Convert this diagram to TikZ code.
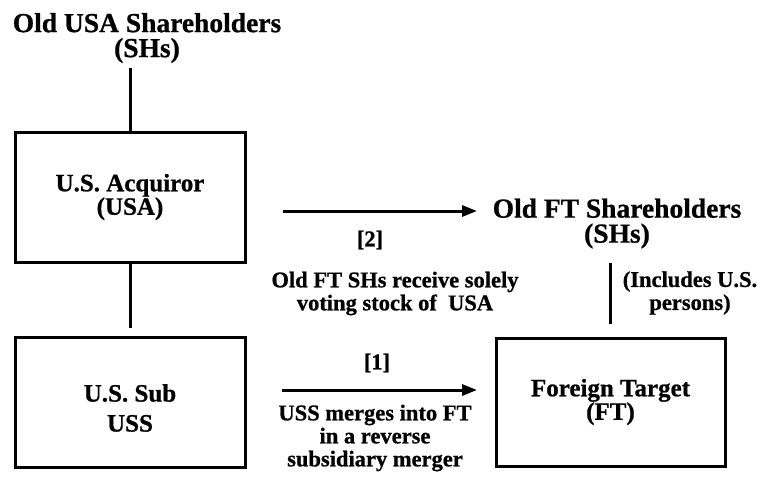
\documentclass[tikz,border=0pt]{standalone}
\usepackage{fontspec}
\setmainfont{Liberation Serif}[BoldFeatures={FakeBold=0.8}]
\usetikzlibrary{arrows.meta,calc}

\begin{document}
\begin{tikzpicture}[x=1pt,y=-1pt,
  every node/.style={inner sep=0pt,outer sep=0pt,align=center,font=\bfseries},
  heading/.style={font=\bfseries\fontsize{27.5}{25}\selectfont},
  boxlabel/.style={font=\bfseries\fontsize{25}{23.5}\selectfont},
  note/.style={font=\bfseries\fontsize{22.5}{23}\selectfont},
  entity/.style={draw,line width=3pt,minimum width=230pt,minimum height=130pt},
  link/.style={line width=3pt},
  flow/.style={line width=3pt,-{Triangle[length=15pt,width=11pt]}}]
\useasboundingbox (0,0) rectangle (757,493);

% shareholder groups
\node[heading] (usash) at (147,38) {Old USA Shareholders\\(SHs)};
\node[heading] (ftsh)  at (617,223.5) {Old FT Shareholders\\(SHs)};

% companies
\node[entity,boxlabel] (usa) at (130,197) {U.S. Acquiror\\(USA)};
\node[entity] (uss) at (130,402) {};
\node[boxlabel,font=\bfseries\fontsize{25}{30}\selectfont] (usslabel) at (130,408) {U.S. Sub\\USS};
\node[entity,boxlabel,minimum width=229pt,minimum height=128pt] (ft) at (610.5,402) {Foreign Target\\(FT)};

% ownership lines
\draw[link,shorten <=5pt] (usash.south -| usa.north) -- (usa.north);
\draw[link,shorten >=9pt] (usa.south) -- (uss.north);
\draw[link,shorten <=15pt,shorten >=14pt] (ftsh.south -| ft.north) -- (ft.north);

% step [2]: exchange of shares
\coordinate (s2from) at (283,211);
\coordinate (s2to)   at (477,211);
\draw[flow] (s2from) -- (s2to);
\node[note] (s2num) at (370,240) {[2]};
\node[note] (s2txt) at (395,293.5) {Old FT SHs receive solely\\voting stock of\ \ USA};
\node[note] (ftnote) at (690,293) {(Includes U.S.\\persons)};

% step [1]: reverse subsidiary merger
\coordinate (s1from) at (282,390);
\coordinate (s1to)   at (477,390);
\draw[flow] (s1from) -- (s1to);
\node[note] (s1num) at (377,363) {[1]};
\node[note] (s1txt) at (375,438) {USS merges into FT\\in a reverse\\subsidiary merger};
\end{tikzpicture}
\end{document}
